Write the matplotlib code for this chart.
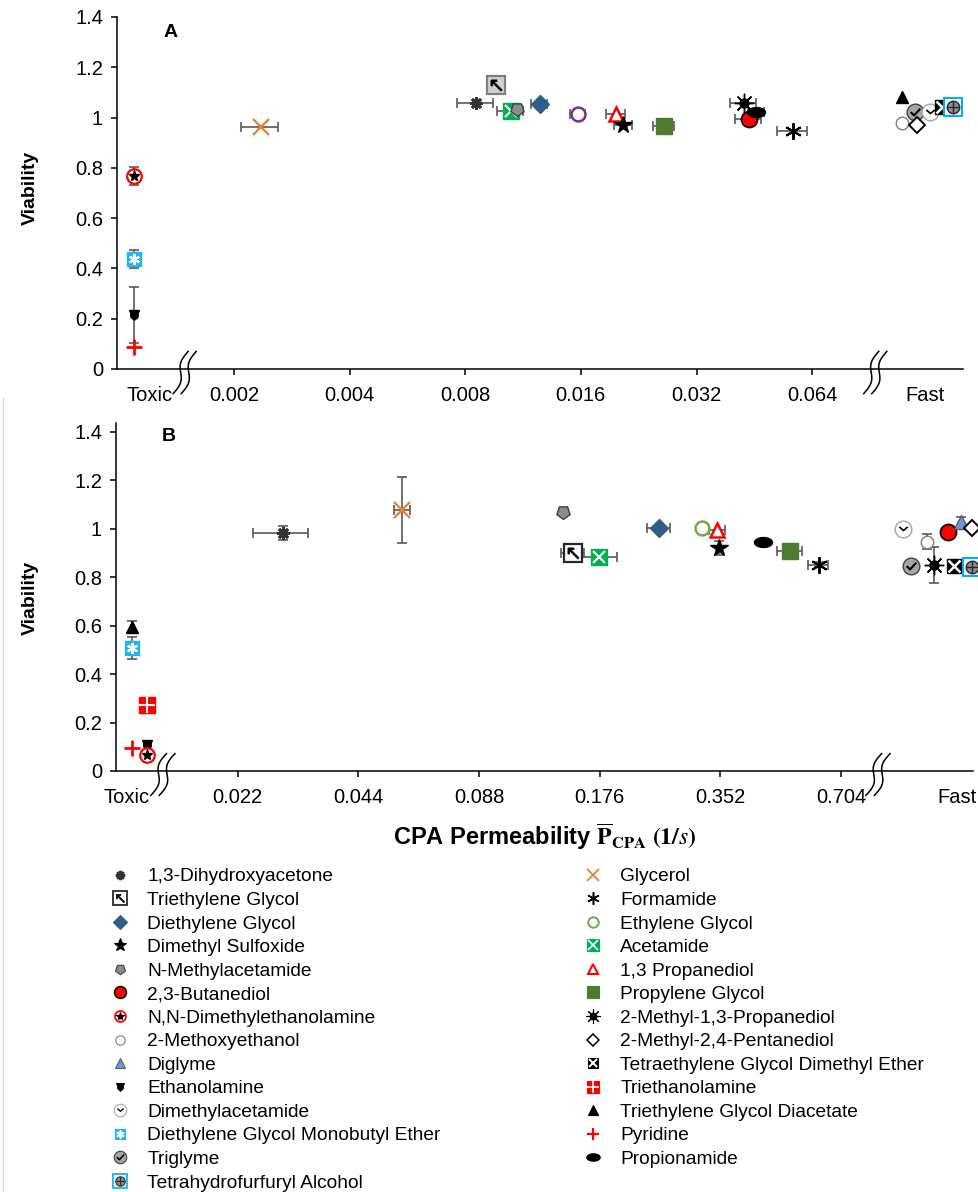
import numpy as np
import matplotlib.pyplot as plt
from matplotlib.lines import Line2D
from matplotlib.transforms import blended_transform_factory

plt.rcParams['font.family'] = ['Liberation Sans', 'DejaVu Sans']

# ---------------- Panel A ----------------
# compounds in the "Toxic" and "Fast" groups sit at nominal permeabilities beyond the axis breaks
a_compound = ['1,3-Dihydroxyacetone', 'Glycerol', 'Triethylene Glycol', 'Acetamide',
              'N-Methylacetamide', 'Diethylene Glycol', 'Ethylene Glycol', '1,3 Propanediol',
              'Dimethyl Sulfoxide', 'Propylene Glycol', '2-Methyl-1,3-Propanediol',
              '2,3-Butanediol', 'Propionamide', 'Formamide',
              'N,N-Dimethylethanolamine', 'Diethylene Glycol Monobutyl Ether', 'Ethanolamine',
              'Pyridine',
              'Triethylene Glycol Diacetate', '2-Methoxyethanol', 'Triglyme',
              '2-Methyl-2,4-Pentanediol', 'Dimethylacetamide',
              'Tetraethylene Glycol Dimethyl Ether', 'Tetrahydrofurfuryl Alcohol']
a_perm = [0.00853, 0.00235, 0.00965, 0.0105, 0.0109, 0.0125, 0.0157, 0.0197, 0.0206, 0.0263,
          0.0425, 0.0438, 0.0458, 0.0570,
          0.0011, 0.0011, 0.0011, 0.0011,
          0.1099, 0.1095, 0.1186, 0.1198, 0.1298, 0.1392, 0.1492]
a_perm_err = [0.00092, 0.00026, 0, 0.0008, 0, 0.0006, 0.00075, 0.0011, 0.0011, 0.0017,
              0.0033, 0.0034, 0.0022, 0.0051,
              0, 0, 0, 0,
              0, 0, 0, 0, 0, 0, 0]
a_viability = [1.057, 0.961, 1.13, 1.027, 1.033, 1.053, 1.014, 1.013, 0.970, 0.968,
               1.057, 0.993, 1.023, 0.948,
               0.768, 0.438, 0.215, 0.087,
               1.081, 0.977, 1.024, 0.971, 1.024, 1.043, 1.041]
a_viability_err = [0, 0, 0.025, 0, 0, 0, 0, 0, 0, 0,
                   0, 0, 0, 0,
                   0.037, 0.036, 0.11, 0,
                   0, 0.015, 0, 0, 0, 0, 0]
a_ticks = [0.002, 0.004, 0.008, 0.016, 0.032, 0.064]
a_tick_labels = ['0.002', '0.004', '0.008', '0.016', '0.032', '0.064']
a_group_x = [0.00121, 0.1259]
a_xlim = (0.000993, 0.158)
a_breaks = [0.00149, 0.0934]

# ---------------- Panel B ----------------
b_compound = ['Triethylene Glycol Diacetate', 'Diethylene Glycol Monobutyl Ether',
              'Triethanolamine', 'Pyridine', 'Ethanolamine', 'N,N-Dimethylethanolamine',
              '1,3-Dihydroxyacetone', 'Glycerol', 'N-Methylacetamide', 'Triethylene Glycol',
              'Acetamide', 'Diethylene Glycol', 'Ethylene Glycol', '1,3 Propanediol',
              'Dimethyl Sulfoxide', 'Propionamide', 'Propylene Glycol', 'Formamide',
              'Dimethylacetamide', 'Triglyme', '2-Methoxyethanol', '2-Methyl-1,3-Propanediol',
              '2,3-Butanediol', 'Tetraethylene Glycol Dimethyl Ether', 'Diglyme',
              '2-Methyl-2,4-Pentanediol', 'Tetrahydrofurfuryl Alcohol']
b_perm = [0.0120, 0.0120, 0.01307, 0.0120, 0.01307, 0.01307,
          0.0285, 0.0566, 0.1423, 0.1512, 0.1756, 0.2475, 0.3175, 0.346, 0.350, 0.449,
          0.526, 0.619,
          1.003, 1.050, 1.152, 1.201, 1.304, 1.350, 1.400, 1.491, 1.491]
b_perm_err = [0, 0, 0, 0, 0, 0,
              0.0044, 0.0027, 0, 0.010, 0.0184, 0.016, 0, 0.016, 0, 0,
              0.038, 0.036,
              0, 0, 0, 0, 0, 0, 0, 0, 0]
b_viability = [0.595, 0.508, 0.273, 0.095, 0.107, 0.066,
               0.983, 1.078, 1.071, 0.902, 0.883, 1.002, 1.005, 0.995, 0.920, 0.947,
               0.909, 0.851,
               0.998, 0.847, 0.947, 0.851, 0.988, 0.847, 1.03, 1.005, 0.844]
b_viability_err = [0.025, 0.045, 0, 0, 0, 0,
                   0.03, 0.135, 0, 0, 0, 0.015, 0.02, 0, 0.03, 0,
                   0, 0.01,
                   0, 0, 0.03, 0.076, 0.015, 0, 0.02, 0, 0]
b_ticks = [0.022, 0.044, 0.088, 0.176, 0.352, 0.704]
b_tick_labels = ['0.022', '0.044', '0.088', '0.176', '0.352', '0.704']
b_group_x = [0.01163, 1.371]
b_xlim = (0.01094, 1.503)
b_breaks = [0.01432, 0.871]

legend_left = ['1,3-Dihydroxyacetone', 'Triethylene Glycol', 'Diethylene Glycol',
               'Dimethyl Sulfoxide', 'N-Methylacetamide', '2,3-Butanediol',
               'N,N-Dimethylethanolamine', '2-Methoxyethanol', 'Diglyme', 'Ethanolamine',
               'Dimethylacetamide', 'Diethylene Glycol Monobutyl Ether', 'Triglyme',
               'Tetrahydrofurfuryl Alcohol']
legend_right = ['Glycerol', 'Formamide', 'Ethylene Glycol', 'Acetamide', '1,3 Propanediol',
                'Propylene Glycol', '2-Methyl-1,3-Propanediol', '2-Methyl-2,4-Pentanediol',
                'Tetraethylene Glycol Dimethyl Ether', 'Triethanolamine',
                'Triethylene Glycol Diacetate', 'Pyridine', 'Propionamide']

# marker shapes
ellipse = [(np.cos(a), 0.55 * np.sin(a)) for a in np.linspace(0, 2 * np.pi, 25)]
check = [(-1, 0.1), (-0.3, -0.6), (1, 0.8)]
chevron = [(-0.8, 0.5), (0, -0.2), (0.8, 0.5)]

STYLE = {
    '1,3-Dihydroxyacetone': [dict(marker=(8, 2, 0), ms=9, mec='#333333', mew=2.0),
                             dict(marker='o', ms=4, mfc='#333333', mec='#333333')],
    'Triethylene Glycol': [dict(marker='s', ms=12.5, mfc='white', mec='#262626', mew=1.6),
                           dict(marker=r'$\nwarrow$', ms=8, mfc='black', mec='black', mew=0.6)],
    'Diethylene Glycol': [dict(marker='D', ms=9, mfc='#2f5d8c', mec='#2f5d8c')],
    'Dimethyl Sulfoxide': [dict(marker='*', ms=13, mfc='black', mec='black')],
    'N-Methylacetamide': [dict(marker=(5, 0, 180), ms=10, mfc='#8c8c8c', mec='#3f3f3f', mew=1)],
    '2,3-Butanediol': [dict(marker='o', ms=11.5, mfc='#ff0000', mec='black', mew=1.3)],
    'N,N-Dimethylethanolamine': [dict(marker='o', ms=10.5, mfc='white', mec='#ff0000', mew=1.6),
                                 dict(marker='*', ms=8, mfc='black', mec='black')],
    '2-Methoxyethanol': [dict(marker='o', ms=9, mfc='white', mec='#7f7f7f', mew=1)],
    'Diglyme': [dict(marker='^', ms=10, mfc='#6d9ad6', mec='#595959', mew=1)],
    'Ethanolamine': [dict(marker='v', ms=7, mfc='black', mec='black'),
                     dict(marker='o', ms=5.5, mfc='black', mec='black', mew=1)],
    'Dimethylacetamide': [dict(marker='o', ms=12, mfc='white', mec='#a6a6a6', mew=1),
                          dict(marker=chevron, ms=6, mfc='none', mec='black', mew=1.2)],
    'Diethylene Glycol Monobutyl Ether': [dict(marker='s', ms=10.5, mfc='#1fb5ee', mec='#1fb5ee'),
                                          dict(marker=(6, 2, 0), ms=8, mec='white', mew=1.5)],
    'Triglyme': [dict(marker='o', ms=12, mfc='#a6a6a6', mec='#404040', mew=1),
                 dict(marker=check, ms=7, mfc='none', mec='black', mew=1.5)],
    'Tetrahydrofurfuryl Alcohol': [dict(marker='s', ms=12.5, mfc='white', mec='#00b0f0', mew=1.5),
                                   dict(marker='o', ms=9, mfc='#8c8c8c', mec='#262626', mew=1),
                                   dict(marker='+', ms=8, mec='#262626', mew=1)],
    'Glycerol': [dict(marker='x', ms=12, mec='#ed7d31', mew=1.6)],
    'Formamide': [dict(marker=(6, 2, 0), ms=12, mec='black', mew=1.4)],
    'Ethylene Glycol': [dict(marker='o', ms=10, mfc='white', mec='#70ad47', mew=1.8)],
    'Acetamide': [dict(marker='s', ms=11, mfc='#00b050', mec='#00b050'),
                  dict(marker='x', ms=9, mec='white', mew=1.5)],
    '1,3 Propanediol': [dict(marker='^', ms=10, mfc='white', mec='#ff0000', mew=1.8)],
    'Propylene Glycol': [dict(marker='s', ms=11.5, mfc='#4f7a32', mec='#4f7a32')],
    '2-Methyl-1,3-Propanediol': [dict(marker=(8, 2, 0), ms=14, mec='black', mew=1),
                                 dict(marker='o', ms=6.5, mfc='black', mec='black')],
    '2-Methyl-2,4-Pentanediol': [dict(marker='D', ms=8, mfc='white', mec='black', mew=1.4)],
    'Tetraethylene Glycol Dimethyl Ether': [dict(marker='s', ms=10.5, mfc='black', mec='black'),
                                            dict(marker='x', ms=8.5, mec='white', mew=1.8)],
    'Triethanolamine': [dict(marker='s', ms=11, mfc='#ff0000', mec='#ff0000'),
                        dict(marker='+', ms=11, mec='white', mew=1.5)],
    'Triethylene Glycol Diacetate': [dict(marker='^', ms=9, mfc='black', mec='black')],
    'Pyridine': [dict(marker='+', ms=11, mec='#ff0000', mew=2)],
    'Propionamide': [dict(marker=ellipse, ms=13, mfc='black', mec='black')],
}
# panel A draws a few compounds in other colours
A_OVERRIDE = {'Ethylene Glycol': dict(mec='#7030a0'),
              'Triethylene Glycol': dict(mfc='#d0d0d0', mec='#7f7f7f')}

EBAR = '#595959'


def axis_break(ax, xb):
    tr = blended_transform_factory(ax.transData, ax.transAxes)
    t = np.linspace(0, 1, 40)
    for off in (-0.035, 0.035):
        xs = xb * 2 ** (off + 0.13 * (t - 0.5) + 0.03 * np.sin(2 * np.pi * t))
        ys = -0.07 + 0.12 * t
        ax.plot(xs, ys, transform=tr, color='black', lw=1.1, clip_on=False, zorder=5)


def draw_panel(ax, names, px, pxe, vy, vye, ticks, tick_labels, group_x, xlim, ylim,
               breaks, letter, overrides):
    for k, (n, x, xe, y, ye) in enumerate(zip(names, px, pxe, vy, vye)):
        if xe or ye:
            ax.errorbar(x, y, xerr=xe if xe else None, yerr=ye if ye else None, fmt='none',
                        ecolor=EBAR, elinewidth=1.2, capsize=3.5, capthick=1.2,
                        zorder=2, clip_on=False)
        for i, layer in enumerate(STYLE[n]):
            kw = dict(layer)
            if i == 0 and n in overrides:
                kw.update(overrides[n])
            ax.plot([x], [y], linestyle='none', clip_on=False,
                    zorder=3 + k * 0.01 + i * 0.001, **kw)

    ax.set_xscale('log', base=2)
    ax.set_xlim(*xlim)
    ax.set_ylim(*ylim)
    ax.set_xticks(ticks, tick_labels)
    ax.set_xticks(group_x, ['Toxic', 'Fast'], minor=True)
    ax.set_yticks(np.arange(0, 1.41, 0.2))
    ax.set_yticklabels(['%g' % round(v, 1) for v in np.arange(0, 1.41, 0.2)])
    ax.tick_params(which='major', direction='out', length=4, width=1.1, pad=6, labelsize=14.5)
    ax.tick_params(axis='x', which='major', pad=8.5)
    ax.tick_params(which='minor', length=0, pad=12.5, labelsize=14.5)
    for s in ['top', 'right']:
        ax.spines[s].set_visible(False)
    for s in ['left', 'bottom']:
        ax.spines[s].set_linewidth(1.1)
    for xb in breaks:
        axis_break(ax, xb)
    ax.text(letter[0], letter[1], letter[2], transform=ax.transAxes, fontsize=14,
            fontweight='bold', ha='center', va='center')


fig = plt.figure(figsize=(9.79, 11.92), dpi=100)
ax_a = fig.add_axes([117 / 979, 1 - 369 / 1192, 846 / 979, 352 / 1192])
ax_b = fig.add_axes([116 / 979, 1 - 771 / 1192, 857 / 979, 348 / 1192])

draw_panel(ax_a, a_compound, a_perm, a_perm_err, a_viability, a_viability_err,
           a_ticks, a_tick_labels, a_group_x, a_xlim, (0, 1.4), a_breaks,
           (0.063, 0.957, 'A'), A_OVERRIDE)
draw_panel(ax_b, b_compound, b_perm, b_perm_err, b_viability, b_viability_err,
           b_ticks, b_tick_labels, b_group_x, b_xlim, (0, 1.437), b_breaks,
           (0.062, 0.96, 'B'), {})

fig.text(30 / 979, 1 - 188 / 1192, 'Viability', rotation=90, ha='center', va='center',
         fontsize=14, fontweight='bold')
fig.text(30 / 979, 1 - 598 / 1192, 'Viability', rotation=90, ha='center', va='center',
         fontsize=14, fontweight='bold')
fig.text(545 / 979, 1 - 837 / 1192,
         r'CPA Permeability $\overline{\mathbf{P}}_{\mathbf{CPA}}\ \mathbf{(1/}\mathit{s}\mathbf{)}$',
         ha='center', va='center', fontsize=17, fontweight='bold', math_fontfamily='stix')

# faint frame line at the left of the lower part
fig.add_artist(Line2D([3 / 979, 3 / 979], [0, 1 - 398 / 1192], color='#d9d9d9', lw=1))


def handle(name):
    return tuple(Line2D([], [], linestyle='none',
                        **{**l, 'ms': l['ms'] * 0.75,
                           'mew': l.get('mew', 1) * 0.8}) for l in STYLE[name])


for names, x0 in [(legend_left, 110), (legend_right, 583)]:
    fig.legend([handle(n) for n in names], names, loc='upper left',
               bbox_to_anchor=(x0 / 979, 1 - 868 / 1192), frameon=False, borderpad=0,
               borderaxespad=0, fontsize=13.8, handlelength=1.0, handletextpad=0.95,
               labelspacing=0.32)

fig.savefig('out.png', dpi=100)
